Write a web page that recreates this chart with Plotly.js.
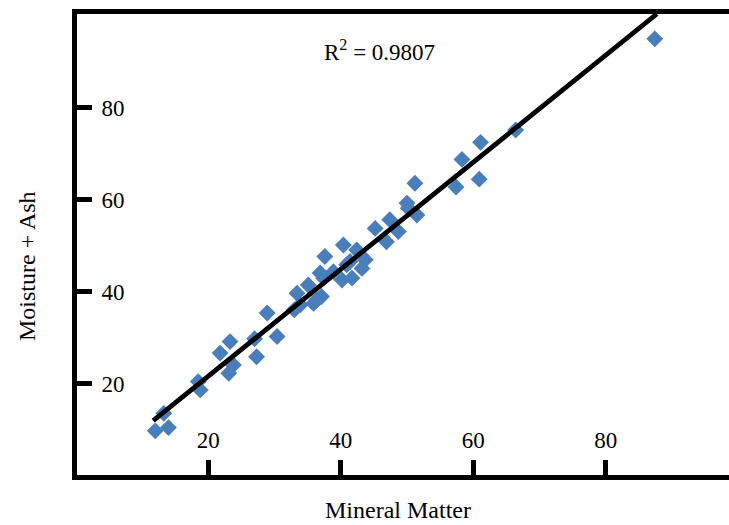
<!DOCTYPE html>
<html>
<head>
<meta charset="utf-8">
<script src="https://cdn.plot.ly/plotly-3.0.1.min.js"></script>
<style>
html,body{margin:0;padding:0;background:#fff;}
#chart{width:729px;height:525px;}
</style>
</head>
<body>
<div id="chart"></div>
<script>
// Mineral Matter (x) vs Moisture + Ash (y)
const mineralMatter = [12.0, 13.3, 14.0, 18.5, 18.8, 21.8, 23.3, 23.1, 23.8, 27.0,
  27.3, 28.9, 30.4, 33.0, 33.4, 33.9, 35.1, 35.9, 36.4, 37.1,
  36.9, 37.4, 37.6, 38.9, 40.2, 40.4, 40.9, 41.4, 41.7, 42.4,
  43.2, 43.7, 45.2, 46.9, 47.4, 48.7, 50.0, 50.2, 51.2, 51.5,
  57.4, 58.3, 60.9, 61.1, 66.4, 87.4];
const moistureAsh = [9.8, 13.6, 10.5, 20.5, 18.7, 26.7, 29.2, 22.3, 24.1, 29.8,
  25.9, 35.4, 30.3, 36.1, 39.7, 37.2, 41.5, 37.5, 38.3, 39.0,
  44.1, 43.0, 47.7, 44.4, 42.6, 50.2, 45.9, 46.6, 43.0, 49.1,
  45.1, 47.0, 53.8, 50.9, 55.7, 53.1, 59.3, 58.2, 63.6, 56.7,
  62.8, 68.8, 64.5, 72.5, 75.2, 95.0];
// Trend line end points
const trendX = [11.7, 87.7];
const trendY = [12.0, 100.4];
const xTicks = [20, 40, 60, 80];
const yTicks = [20, 40, 60, 80];
const xTitle = 'Mineral Matter';
const yTitle = 'Moisture + Ash';
const r2Label = 'R<sup>2</sup> = 0.9807';

const FONT = 'Liberation Serif, Times New Roman, serif';

const traces = [
  {
    x: mineralMatter, y: moistureAsh, type: 'scatter', mode: 'markers',
    marker: {symbol: 'diamond', size: 13, color: '#4A7EBB'},
    showlegend: false, hoverinfo: 'skip'
  },
  {
    x: trendX, y: trendY, type: 'scatter', mode: 'lines',
    line: {color: '#000000', width: 4.8},
    showlegend: false, hoverinfo: 'skip', cliponaxis: false
  }
];

const axisCommon = {
  showgrid: false, zeroline: false,
  showline: true, linecolor: '#000', linewidth: 5, mirror: true,
  ticks: 'inside', ticklen: 15, tickwidth: 5, tickcolor: '#000',
  ticklabelposition: 'inside',
  tickfont: {family: FONT, size: 23, color: '#000'},
  tickmode: 'array', automargin: false
};

const layout = {
  width: 729, height: 525,
  margin: {l: 77, r: 0, t: 14, b: 50},
  paper_bgcolor: '#fff', plot_bgcolor: '#fff',
  xaxis: Object.assign({}, axisCommon, {
    range: [0.2, 98.6], tickvals: xTicks, ticktext: xTicks.map(String),
    ticklabelstandoff: 9
  }),
  yaxis: Object.assign({}, axisCommon, {
    range: [0.2, 100.4], tickvals: yTicks, ticktext: yTicks.map(String),
    ticklabelstandoff: 11
  }),
  annotations: [
    {
      text: r2Label, xref: 'x', yref: 'y', x: 45.8, y: 92.4,
      showarrow: false, font: {family: FONT, size: 23, color: '#000'}
    },
    {
      text: xTitle, xref: 'paper', yref: 'paper', x: 0.4923, y: -0.0759,
      xanchor: 'center', yanchor: 'middle',
      showarrow: false, font: {family: FONT, size: 24, color: '#000'}
    },
    {
      text: yTitle, xref: 'paper', yref: 'paper', x: -0.0767, y: 0.4534,
      xanchor: 'center', yanchor: 'middle', textangle: -90,
      showarrow: false, font: {family: FONT, size: 24, color: '#000'}
    }
  ]
};

Plotly.newPlot('chart', traces, layout, {staticPlot: true, displayModeBar: false});
</script>
</body>
</html>
